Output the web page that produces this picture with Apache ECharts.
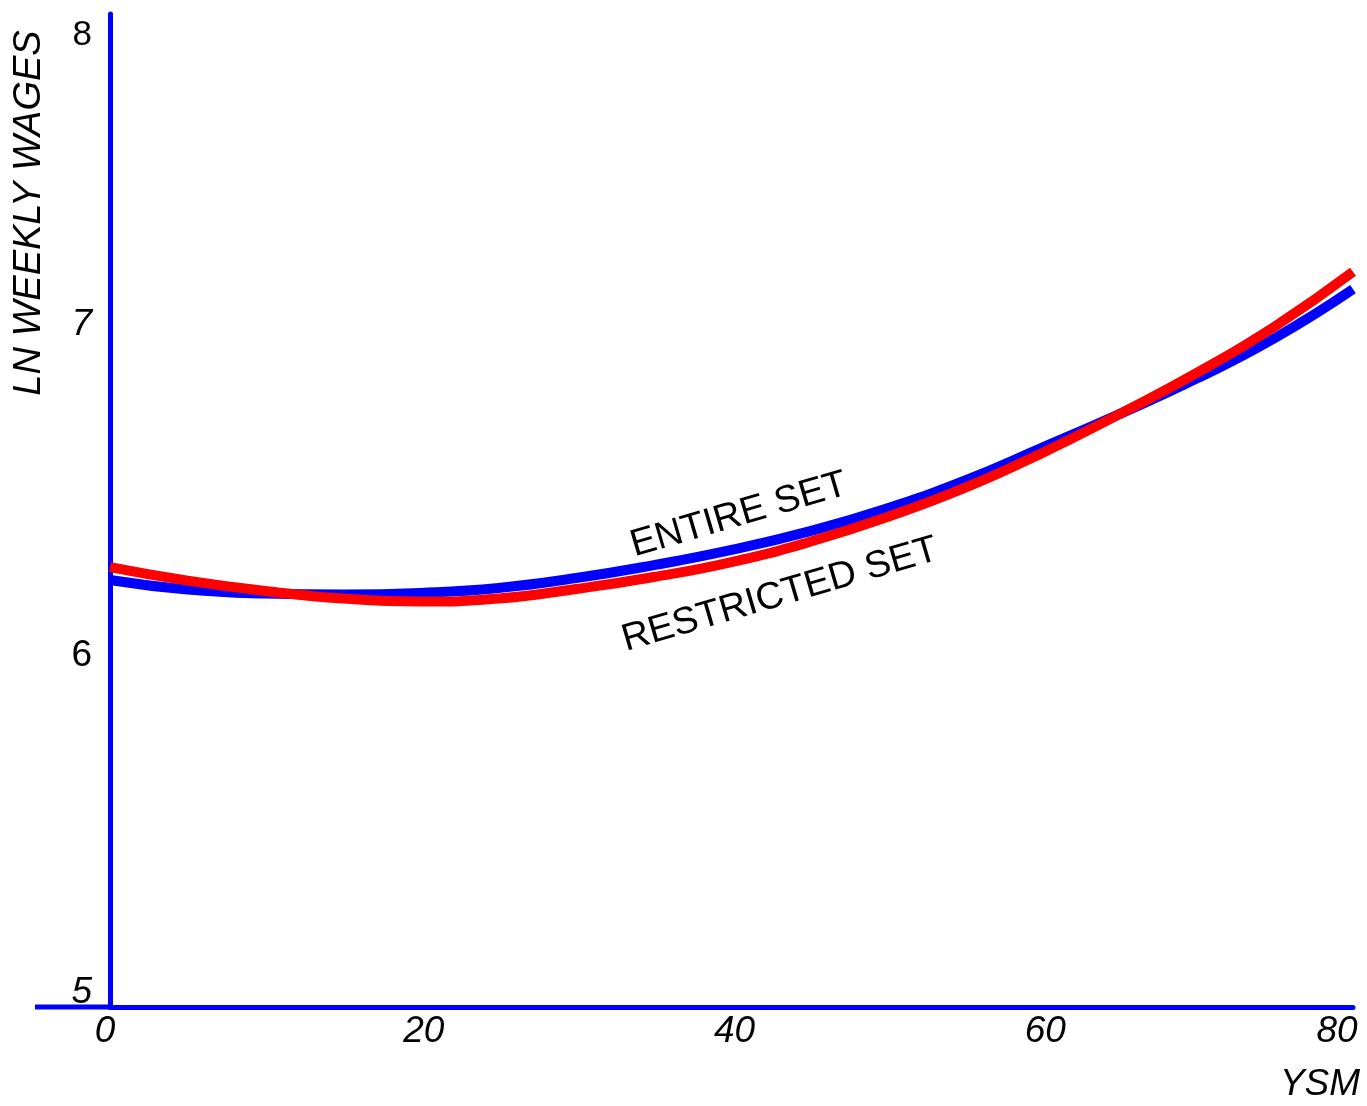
<!DOCTYPE html>
<html>
<head>
<meta charset="utf-8">
<script src="https://cdn.jsdelivr.net/npm/echarts@6/dist/echarts.min.js"></script>
<style>
html,body{margin:0;padding:0;background:#fff;}
#chart{width:1367px;height:1106px;}
</style>
</head>
<body>
<div id="chart"></div>
<script>
// YSM values (x)
const ysm = [0, 5, 10, 15, 20, 25, 30, 35, 40, 45, 50, 55, 60, 65, 70, 75, 80];
// LN weekly wages, entire set (blue)
const entireSet = [6.290, 6.261, 6.249, 6.246, 6.251, 6.266, 6.296, 6.335, 6.381, 6.437, 6.506, 6.590, 6.690, 6.792, 6.900, 7.022, 7.169];
// LN weekly wages, restricted set (red)
const restrictedSet = [6.329, 6.288, 6.257, 6.234, 6.225, 6.234, 6.263, 6.299, 6.344, 6.405, 6.480, 6.568, 6.674, 6.792, 6.917, 7.057, 7.221];
// tick labels
const xTicks = [0, 20, 40, 60, 80];
const yTicks = [5, 6, 7, 8];

const FONT = '"Liberation Sans", Arial, sans-serif';
const BLUE = '#0000ff';
const RED = '#ff0000';

const chart = echarts.init(document.getElementById('chart'), null, {renderer: 'canvas'});

const option = {
  backgroundColor: '#ffffff',
  animation: false,
  grid: {left: 110, right: 14, top: 14, bottom: 99, containLabel: false, outerBoundsMode: 'none'},
  xAxis: {
    type: 'value',
    min: 0,
    max: 80,
    interval: 20,
    axisLine: {show: true, onZero: false, lineStyle: {color: BLUE, width: 5}},
    axisTick: {show: false},
    splitLine: {show: false},
    axisLabel: {
      margin: 6,
      color: '#000',
      fontFamily: FONT,
      fontSize: 37,
      fontStyle: 'italic',
      formatter: function (v) {
        if (v === 80) return '{r|' + v + '}';
        if (v === 0) return '{z|' + v + '}';
        return '{n|' + v + '}';
      },
      rich: {
        n: {fontFamily: FONT, fontSize: 37, fontStyle: 'italic', color: '#000', padding: [0, 0, 0, 6]},
        z: {fontFamily: FONT, fontSize: 37, fontStyle: 'italic', color: '#000', padding: [0, 10, 0, 0]},
        r: {fontFamily: FONT, fontSize: 37, fontStyle: 'italic', color: '#000', padding: [0, 32, 0, 0]}
      }
    }
  },
  yAxis: {
    type: 'value',
    min: yTicks[0],
    max: yTicks[yTicks.length - 1],
    interval: 1,
    axisLine: {show: true, onZero: false, lineStyle: {color: BLUE, width: 5}},
    axisTick: {show: false},
    splitLine: {show: false},
    axisLabel: {
      margin: 18,
      color: '#000',
      fontFamily: FONT,
      fontSize: 37,
      formatter: function (v) {
        if (v === 5) return '{a|' + v + '}';
        if (v === 6) return '{b|' + v + '}';
        if (v === 7) return '{c|' + v + '}';
        return '{d|' + v + '}';
      },
      rich: {
        a: {fontFamily: FONT, fontSize: 37, fontStyle: 'italic', color: '#000', padding: [0, 0, 28, 0]},
        b: {fontFamily: FONT, fontSize: 37, color: '#000', padding: [0, 0, 40, 0]},
        c: {fontFamily: FONT, fontSize: 37, fontStyle: 'italic', color: '#000', padding: [0, 0, 40, 0]},
        d: {fontFamily: FONT, fontSize: 35, color: '#000', padding: [42, 0, 0, 0]}
      }
    }
  },
  series: [
    {
      name: 'ENTIRE SET',
      type: 'line',
      smooth: true,
      showSymbol: false,
      symbol: 'none',
      clip: false,
      lineStyle: {color: BLUE, width: 10, cap: 'butt'},
      data: ysm.map((x, i) => [x, entireSet[i]]),
      z: 3
    },
    {
      name: 'RESTRICTED SET',
      type: 'line',
      smooth: true,
      showSymbol: false,
      symbol: 'none',
      clip: false,
      lineStyle: {color: RED, width: 10, cap: 'butt'},
      data: ysm.map((x, i) => [x, restrictedSet[i]]),
      z: 4
    }
  ],
  graphic: [
    {
      type: 'line', z: 1,
      shape: {x1: 35, y1: 1007, x2: 112, y2: 1007},
      style: {stroke: BLUE, lineWidth: 5}
    },
    {
      type: 'text', x: 29, y: 213, rotation: Math.PI / 2,
      style: {text: 'LN WEEKLY WAGES', x: 0, y: 0, align: 'center', verticalAlign: 'middle',
        font: 'italic 38px ' + FONT, fill: '#000'}
    },
    {
      type: 'text', x: 1320, y: 1085,
      style: {text: 'YSM', x: 0, y: 0, align: 'center', verticalAlign: 'middle',
        font: 'italic 37px ' + FONT, fill: '#000'}
    },
    {
      type: 'text', x: 739, y: 515, rotation: 0.285,
      style: {text: 'ENTIRE SET', x: 0, y: 0, align: 'center', verticalAlign: 'middle',
        font: '38px ' + FONT, fill: '#000'}
    },
    {
      type: 'text', x: 780, y: 595, rotation: 0.285,
      style: {text: 'RESTRICTED SET', x: 0, y: 0, align: 'center', verticalAlign: 'middle',
        font: '38px ' + FONT, fill: '#000'}
    }
  ]
};

chart.setOption(option);
</script>
</body>
</html>
